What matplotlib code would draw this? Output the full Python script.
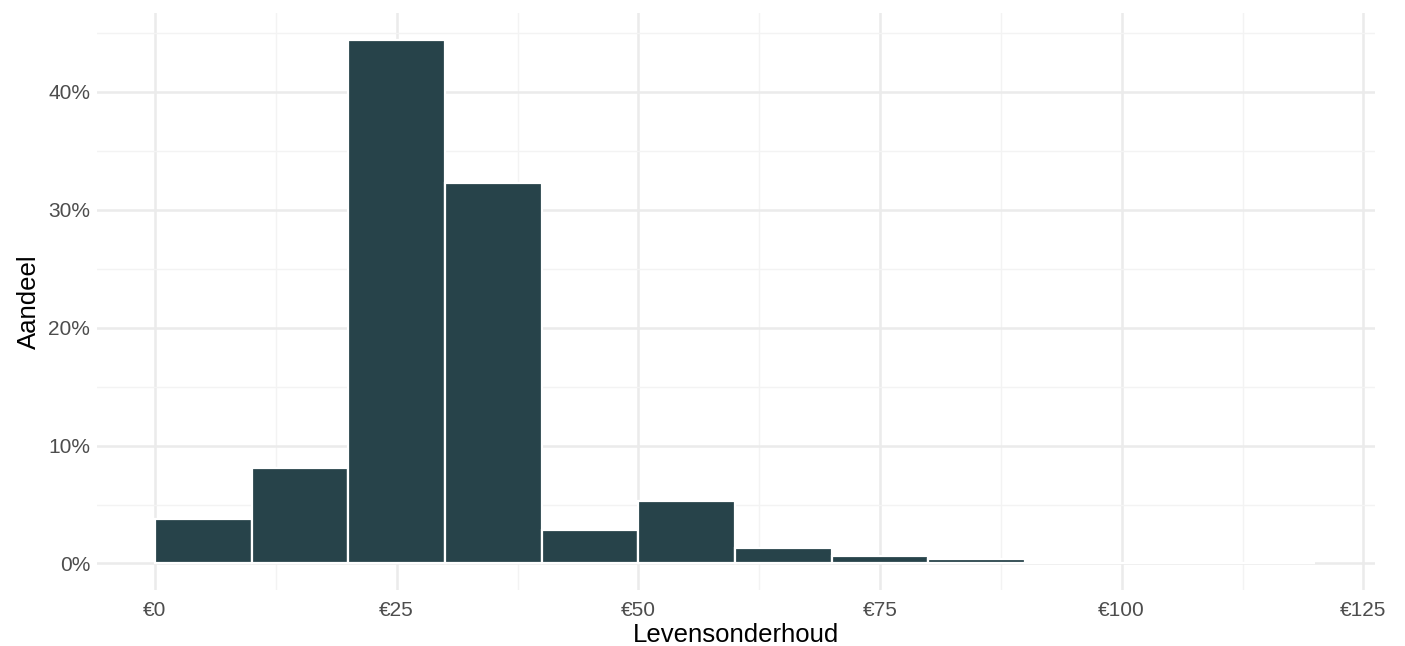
import matplotlib.pyplot as plt
from matplotlib.ticker import FixedLocator, FuncFormatter
import numpy as np

plt.rcParams['font.family'] = ['Liberation Sans', 'DejaVu Sans']

# histogram bins (left edges, euro) and share per bin (%)
bin_left = [0, 10, 20, 30, 40, 50, 60, 70, 80, 90, 100, 110]
share = [3.75, 8.1, 44.4, 32.25, 2.8, 5.3, 1.35, 0.6, 0.35, 0.0, 0.0, 0.03]
bin_width = 10

x_ticks = [0, 25, 50, 75, 100, 125]
y_ticks = [0, 10, 20, 30, 40]

fig = plt.figure(figsize=(14.05, 6.46), dpi=100)
ax = fig.add_axes([97/1405, 56/646, (1375-97)/1405, (633-56)/646])

for s in ax.spines.values():
    s.set_visible(False)

ax.bar(bin_left, share, width=bin_width, align='edge', color='#27434a',
       edgecolor='white', linewidth=1.6, zorder=3)

ax.set_xlim(-6, 126.2)
ax.set_ylim(-2.25, 46.7)

ax.xaxis.set_major_locator(FixedLocator(x_ticks))
ax.xaxis.set_minor_locator(FixedLocator([12.5, 37.5, 62.5, 87.5, 112.5]))
ax.yaxis.set_major_locator(FixedLocator(y_ticks))
ax.yaxis.set_minor_locator(FixedLocator([5, 15, 25, 35, 45]))
ax.xaxis.set_major_formatter(FuncFormatter(lambda v, p: '€%d' % v))
ax.yaxis.set_major_formatter(FuncFormatter(lambda v, p: '%d%%' % v))

ax.grid(which='major', color='#ebebeb', linewidth=1.8, zorder=0)
ax.grid(which='minor', color='#f3f3f3', linewidth=1.0, zorder=0)
ax.tick_params(which='both', length=0)
ax.tick_params(axis='both', labelsize=15, labelcolor='#4d4d4d')
ax.tick_params(axis='x', pad=8)
ax.tick_params(axis='y', pad=5)

ax.set_xlabel('Levensonderhoud', fontsize=18.5, labelpad=2)
ax.set_ylabel('Aandeel', fontsize=18.5, labelpad=5)

fig.savefig('out.png', dpi=100, facecolor='white')
